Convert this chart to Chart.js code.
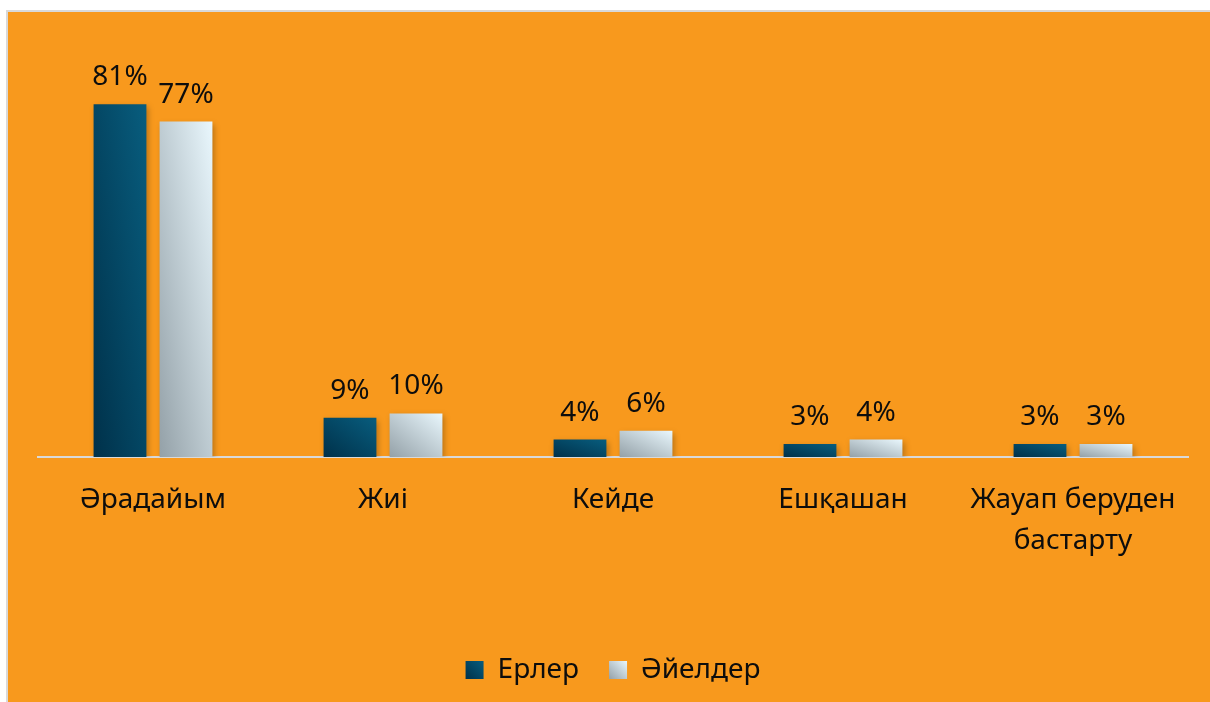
<!DOCTYPE html>
<html>
<head>
<meta charset="utf-8">
<script src="https://cdn.jsdelivr.net/npm/chart.js@4.4.1/dist/chart.umd.min.js"></script>
<style>
  html, body { margin: 0; padding: 0; background: #fff; }
  #frame {
    position: absolute; left: 6px; top: 10px;
    width: 1202px; height: 690px;
    border-top: 2px solid #d9d9d9; border-left: 2px solid #d9d9d9;
    background: #f8991d;
  }
  #frame canvas { display: block; }
</style>
</head>
<body>
<div id="frame"><canvas id="chart" width="1202" height="690"></canvas></div>
<script>
// categories and series (percent)
const categories = ['Әрадайым', 'Жиі', 'Кейде', 'Ешқашан', ['Жауап беруден', 'бастарту']];
const seriesNames = ['Ерлер', 'Әйелдер'];
const menValues = [81, 9, 4, 3, 3];
const womenValues = [77, 10, 6, 4, 3];

// gradient stops: bottom-left -> top-right
const gradientStops = [
    ['#00314a', '#085d7e'],
    ['#94a1a8', '#e9f7fd']
];

const FONT = '"Noto Sans", sans-serif';

// half across the width, half up the height
function makeBarGradient(ctx, left, bottom, w, h, stops) {
    const a = 0.5 / w;
    const b = 0.5 / Math.max(h, 1);
    const n = a * a + b * b;
    const g = ctx.createLinearGradient(left, bottom, left + a / n, bottom - b / n);
    g.addColorStop(0, stops[0]);
    g.addColorStop(1, stops[1]);
    return g;
}

/**
 * 每根柱子用自己的渐变 + 阴影, 顶部画百分比
 */
const barStylePlugin = {
    id: 'barStyle',
    beforeDraw(chart) {
        const legend = chart.legend;
        if (!legend || !legend.legendHitBoxes) return;
        legend.legendItems.forEach((item, i) => {
            const box = legend.legendHitBoxes[i];
            if (!box) return;
            const top = box.top + (box.height - 18) / 2;
            item.fillStyle = makeBarGradient(chart.ctx, box.left, top + 18, 18, 18, gradientStops[i]);
        });
    },
    beforeDatasetsDraw(chart) {
        const ctx = chart.ctx;
        chart.data.datasets.forEach((ds, di) => {
            chart.getDatasetMeta(di).data.forEach(bar => {
                const left = bar.x - bar.width / 2;
                const g = makeBarGradient(ctx, left, bar.base, bar.width, bar.base - bar.y, gradientStops[di]);
                bar.options = Object.assign({}, bar.options, { backgroundColor: g });
            });
        });
        ctx.save();
        ctx.shadowColor = 'rgba(0, 0, 0, 0.28)';
        ctx.shadowBlur = 6;
        ctx.shadowOffsetX = 2;
        ctx.shadowOffsetY = 3;
    },
    afterDatasetsDraw(chart) {
        const ctx = chart.ctx;
        ctx.restore();
        ctx.save();
        ctx.font = '28px ' + FONT;
        ctx.fillStyle = '#0d0d0d';
        ctx.textAlign = 'center';
        ctx.textBaseline = 'alphabetic';
        chart.data.datasets.forEach((ds, di) => {
            chart.getDatasetMeta(di).data.forEach((bar, i) => {
                ctx.fillText(ds.data[i] + '%', bar.x, bar.y - 19);
            });
        });
        ctx.restore();
    }
};

new Chart(document.getElementById('chart'), {
    type: 'bar',
    data: {
        labels: categories,
        datasets: [
            { label: seriesNames[0], data: menValues, backgroundColor: gradientStops[0][1] },
            { label: seriesNames[1], data: womenValues, backgroundColor: gradientStops[1][1] }
        ]
    },
    options: {
        responsive: false,
        animation: false,
        events: [],
        categoryPercentage: 0.574,
        barPercentage: 0.8,
        layout: { padding: { top: 53, left: 30, right: 22, bottom: 8 } },
        scales: {
            x: {
                grid: { display: false, drawTicks: false },
                border: { display: true, color: '#d9d9d9', width: 2 },
                ticks: {
                    color: '#0d0d0d',
                    padding: 23,
                    maxRotation: 0,
                    autoSkip: false,
                    font: { family: FONT, size: 28, lineHeight: 1.45 }
                },
                afterFit(scale) { scale.height = 169; }
            },
            y: { display: false, min: 0, max: 90 }
        },
        plugins: {
            legend: {
                position: 'bottom',
                labels: {
                    color: '#0d0d0d',
                    boxWidth: 18,
                    boxHeight: 18,
                    padding: 30,
                    font: { family: FONT, size: 28 }
                }
            },
            tooltip: { enabled: false }
        }
    },
    plugins: [barStylePlugin]
});
</script>
</body>
</html>
